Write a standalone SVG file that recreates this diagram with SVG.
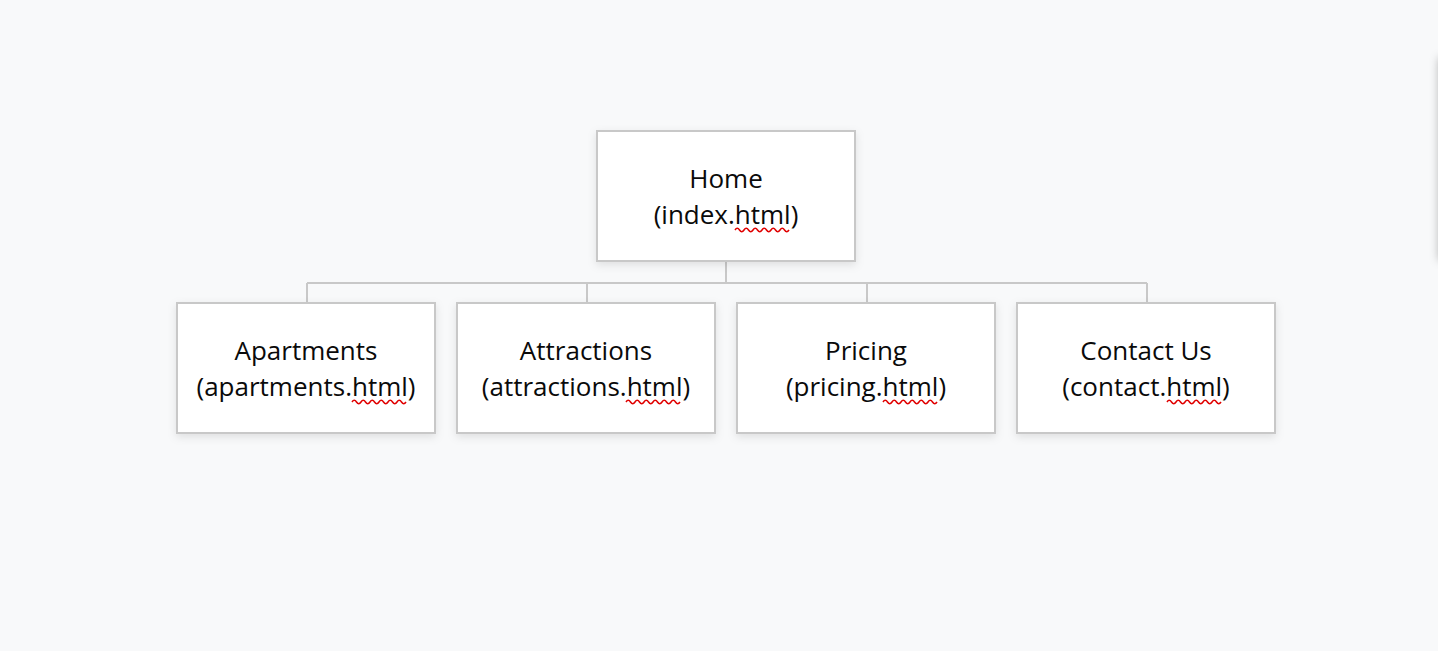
<svg xmlns="http://www.w3.org/2000/svg" width="1438" height="651" viewBox="0 0 1438 651">
  <defs>
    <filter id="card-shadow" x="-10%" y="-10%" width="120%" height="130%">
      <feDropShadow dx="0" dy="3" stdDeviation="4" flood-color="#000" flood-opacity="0.10"/>
    </filter>
    <filter id="panel-shadow" x="-30%" y="-20%" width="160%" height="140%">
      <feDropShadow dx="0" dy="0" stdDeviation="5" flood-color="#000" flood-opacity="0.3"/>
    </filter>
    <!-- spell-check wave, 54px wide -->
    <path id="squiggle" d="M0,2 q2.25,-3.6 4.5,0 t4.5,0 t4.5,0 t4.5,0 t4.5,0 t4.5,0 t4.5,0 t4.5,0 t4.5,0 t4.5,0 t4.5,0 t4.5,0" fill="none" stroke="#e00000" stroke-width="1.5"/>
  </defs>
  <style>
    .box { fill: #ffffff; stroke: #c8c8c8; stroke-width: 2; filter: url(#card-shadow); }
    .label { font-family: "Open Sans", "Noto Sans", sans-serif; font-size: 26px; fill: #0a0a0a; text-anchor: middle; }
    .link { fill: none; stroke: #c8c8c8; stroke-width: 2; }
  </style>

  <rect width="1438" height="651" fill="#f8f9fa"/>

  <!-- side panel peeking in from the right edge -->
  <rect x="1439" y="58" width="120" height="202" fill="#ffffff" filter="url(#panel-shadow)"/>

  <g id="connectors">
    <path class="link" d="M726,261 V283 M307,283 H1147 M307,283 V303 M587,283 V303 M867,283 V303 M1147,283 V303"/>
  </g>

  <g id="home">
    <rect class="box" x="597" y="131" width="258" height="130"/>
    <text class="label" x="726" y="188">Home</text>
    <text class="label" x="726" y="224">(index.html)</text>
    <use href="#squiggle" x="735" y="228"/>
  </g>

  <g id="apartments">
    <rect class="box" x="177" y="303" width="258" height="130"/>
    <text class="label" x="306" y="360">Apartments</text>
    <text class="label" x="306" y="396">(apartments.html)</text>
    <use href="#squiggle" x="352" y="400"/>
  </g>

  <g id="attractions">
    <rect class="box" x="457" y="303" width="258" height="130"/>
    <text class="label" x="586" y="360">Attractions</text>
    <text class="label" x="586" y="396">(attractions.html)</text>
    <use href="#squiggle" x="626" y="400"/>
  </g>

  <g id="pricing">
    <rect class="box" x="737" y="303" width="258" height="130"/>
    <text class="label" x="866" y="360">Pricing</text>
    <text class="label" x="866" y="396">(pricing.html)</text>
    <use href="#squiggle" x="883" y="400"/>
  </g>

  <g id="contact">
    <rect class="box" x="1017" y="303" width="258" height="130"/>
    <text class="label" x="1146" y="360">Contact Us</text>
    <text class="label" x="1146" y="396">(contact.html)</text>
    <use href="#squiggle" x="1167" y="400"/>
  </g>
</svg>
